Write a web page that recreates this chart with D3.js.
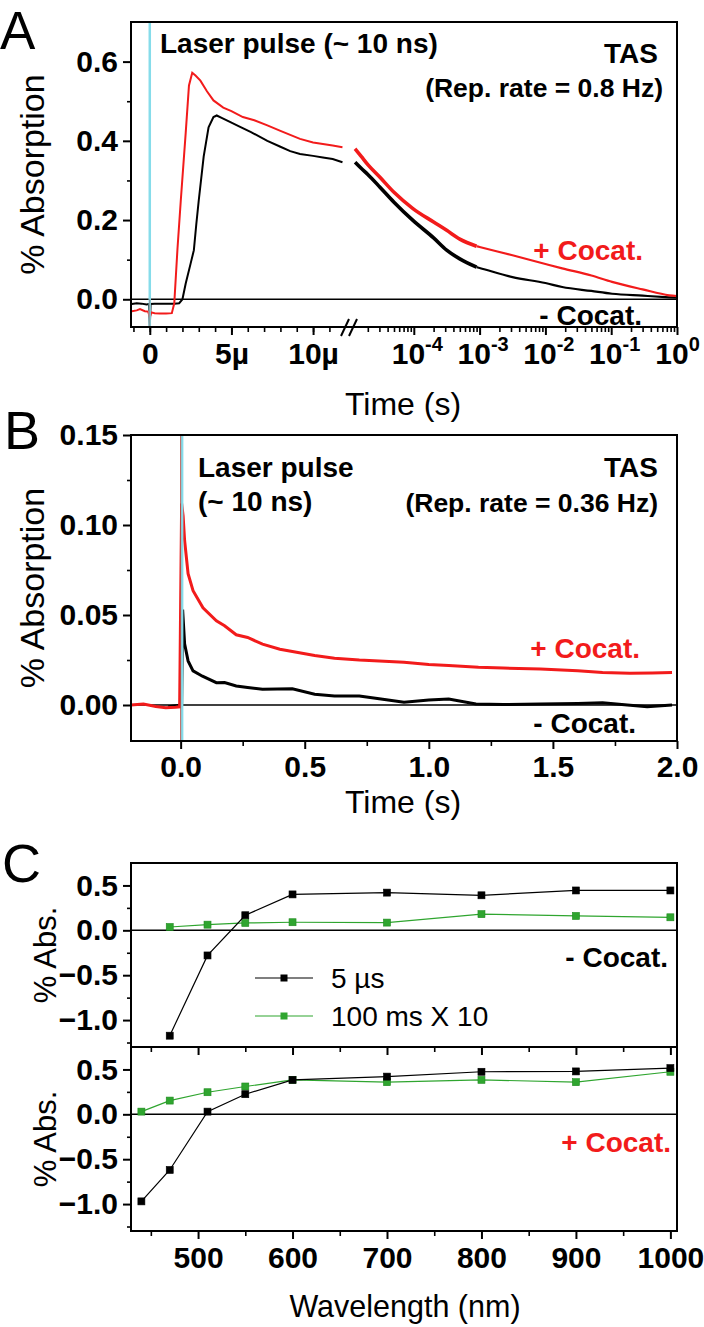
<!DOCTYPE html>
<html><head><meta charset="utf-8">
<script src="https://cdn.jsdelivr.net/npm/d3@7"></script>
<style>
body{margin:0;background:#fff}
svg text{font-family:"Liberation Sans",Arial,Helvetica,sans-serif}
</style>
</head><body>
<svg id="chart" width="704" height="1327"></svg>
<script>
// ---------------- DATA ----------------
// Panel A, linear section (time in microseconds)
const redA_linT   = [-1.1,-0.8,-0.6,-0.3,-0.1,0,0.1,0.3,0.6,1.0,1.35,1.5,1.6,1.7,1.9,2.2,2.4,2.6,2.8,3.1,3.5,3.9,4.5,5.0,5.7,6.4,7.2,8.0,8.6,9.2,10.0,10.6,11.2,11.8];
const redA_linV   = [-0.030,-0.028,-0.025,-0.030,-0.031,-0.045,-0.033,-0.035,-0.036,-0.036,-0.035,-0.010,0.060,0.130,0.250,0.420,0.540,0.572,0.565,0.552,0.525,0.502,0.484,0.475,0.460,0.452,0.439,0.425,0.415,0.405,0.396,0.392,0.388,0.384];
const blackA_linT = [-1.1,-0.8,-0.5,-0.2,-0.05,0,0.05,0.3,1.0,1.5,1.8,2.0,2.2,2.5,2.7,2.85,3.0,3.3,3.6,3.9,4.1,4.4,4.75,5.5,6.2,7.2,8.0,8.6,9.2,10.0,10.6,11.2,11.8];
const blackA_linV = [-0.012,-0.010,-0.011,-0.013,-0.012,-0.070,-0.012,-0.011,-0.011,-0.011,-0.010,0.000,0.040,0.090,0.124,0.190,0.250,0.360,0.434,0.460,0.464,0.458,0.451,0.436,0.422,0.400,0.385,0.374,0.367,0.362,0.358,0.354,0.346];
// Panel A, log section (time in seconds)
const A_logT      = [1.28e-5,1.6e-5,2e-5,3.06e-5,5e-5,9.7e-5,2e-4,3.16e-4,5e-4,9e-4,1e-3,3.16e-3,1e-2,1.8e-2,5e-2,1.03e-1,3e-1,7.6e-1,1];
const redA_logV   = [0.380,0.360,0.340,0.308,0.270,0.229,0.195,0.174,0.152,0.134,0.132,0.111,0.089,0.078,0.060,0.044,0.025,0.010,0.008];
const blackA_logV = [0.346,0.330,0.315,0.283,0.245,0.199,0.155,0.124,0.102,0.081,0.079,0.056,0.041,0.031,0.021,0.014,0.009,0.005,0.004];
const A_noisyCount = 10;
const A_linTicks  = [0,5,10];
const A_linTickLabels = ["0","5\u00b5","10\u00b5"];
const A_logTicks  = [1e-4,1e-3,1e-2,1e-1,1];
const A_logExp    = ["-4","-3","-2","-1","0"];
const A_yTicks    = [0.0,0.2,0.4,0.6];

// Panel B (time in seconds)
const redB_T   = [-0.2,-0.15,-0.1,-0.06,-0.02,-0.004,0.004,0.01,0.016,0.03,0.05,0.09,0.144,0.177,0.224,0.27,0.33,0.4,0.54,0.62,0.72,0.8,0.9,1.0,1.08,1.2,1.3,1.45,1.6,1.7,1.81,1.9,1.98];
const redB_V   = [0.000,0.0005,-0.0008,-0.0015,-0.0012,-0.001,0.112,0.105,0.0914,0.073,0.0635,0.054,0.0468,0.044,0.039,0.0375,0.0338,0.031,0.0275,0.026,0.0250,0.0245,0.0238,0.0225,0.022,0.021,0.0205,0.020,0.019,0.018,0.0176,0.0178,0.018];
const blackB_T = [-0.05,0.004,0.008,0.016,0.03,0.05,0.088,0.144,0.177,0.224,0.27,0.33,0.45,0.54,0.62,0.72,0.8,0.9,1.0,1.08,1.19,1.3,1.45,1.6,1.7,1.8,1.88,1.98];
const blackB_V = [-0.001,0.000,0.053,0.034,0.0245,0.019,0.016,0.0124,0.0125,0.0106,0.0097,0.0087,0.009,0.006,0.005,0.005,0.0035,0.0015,0.0028,0.0033,0.0005,0.0003,0.0005,0.0008,0.0012,0.000,-0.001,0.000];
const B_xTicks = [0,0.5,1.0,1.5,2.0];
const B_yTicks = [0.00,0.05,0.10,0.15];

// Panel C (wavelength in nm)
const wlTop     = [470,510,550,600,700,800,900,1000];
const top5us    = [-1.174,-0.28,0.168,0.40,0.42,0.39,0.444,0.444];
const top100ms  = [0.037,0.063,0.082,0.090,0.086,0.18,0.16,0.145];
const wlBot     = [440,470,510,550,600,700,800,900,1000];
const bot5us    = [-0.97,-0.62,0.03,0.224,0.384,0.42,0.474,0.478,0.515];
const bot100ms  = [0.03,0.153,0.246,0.31,0.384,0.358,0.384,0.358,0.474];
const C_xTicks  = [500,600,700,800,900,1000];
const C_yTicks  = [-1.0,-0.5,0.0,0.5];
const legendLabels = ["5 \u00b5s","100 ms X 10"];

// ---------------- DRAW ----------------
const svg = d3.select("#chart");
const RED = "#f21b1b", CYAN = "#86dcea", GREEN = "#2fa52f";
const L = 131, R = 677;
const TFS = 30;

function styleAxis(g, fs){
  g.select(".domain").remove();
  g.selectAll(".tick line").attr("stroke","#000").attr("stroke-width",2);
  g.selectAll(".tick text").attr("font-size",fs).attr("font-weight","bold").attr("fill","#000");
}
function minorAxis(g){ g.select(".domain").remove(); g.selectAll(".tick line").attr("stroke","#000").attr("stroke-width",1.6); g.selectAll(".tick text").remove(); }

function frame(x0,y0,x1,y1){
  svg.append("rect").attr("x",x0).attr("y",y0).attr("width",x1-x0).attr("height",y1-y0)
    .attr("fill","none").attr("stroke","#000").attr("stroke-width",2);
}
function txt(x,y,s,opt){
  const t = svg.append("text").attr("x",x).attr("y",y).text(s)
    .attr("font-size",opt.fs||28).attr("font-weight",opt.bold?"bold":"normal")
    .attr("fill",opt.fill||"#000").attr("text-anchor",opt.anchor||"start");
  if(opt.rot) t.attr("transform",`rotate(-90,${x},${y})`);
  return t;
}

// ===== Panel A =====
const A_top = 22, A_bot = 327;
const xAlin = d3.scaleLinear().domain([-1.15,12.2]).range([L,349]);
const xAlog = d3.scaleLog().domain([1e-5,1]).range([348,R]);
const yA = d3.scaleLinear().domain([-0.07,0.70]).range([A_bot,A_top]);

const gAx = svg.append("g");
gAx.append("line").attr("x1",L).attr("x2",R).attr("y1",yA(0)).attr("y2",yA(0)).attr("stroke","#000").attr("stroke-width",1.5);

const lineLin = d3.line().x(d=>xAlin(d[0])).y(d=>yA(d[1]));
const lineLog = d3.line().x(d=>xAlog(d[0])).y(d=>yA(d[1])).curve(d3.curveMonotoneX);
function drawA(T,V,color){
  gAx.append("path").datum(T.map((t,i)=>[t,V[i]])).attr("d",lineLin).attr("fill","none").attr("stroke",color).attr("stroke-width",2);
}
drawA(blackA_linT,blackA_linV,"#000");
drawA(redA_linT,redA_linV,RED);
function drawAlog(V,color){
  const pts = A_logT.map((t,i)=>[t,V[i]]);
  gAx.append("path").datum(pts.slice(A_noisyCount-1)).attr("d",lineLog).attr("fill","none").attr("stroke",color).attr("stroke-width",2.2);
  gAx.append("path").datum(pts.slice(0,A_noisyCount)).attr("d",lineLog).attr("fill","none").attr("stroke",color).attr("stroke-width",3.6);
}
drawAlog(blackA_logV,"#000");
drawAlog(redA_logV,RED);
gAx.append("line").attr("x1",xAlin(0)).attr("x2",xAlin(0)).attr("y1",A_top).attr("y2",A_bot).attr("stroke",CYAN).attr("stroke-width",2.5);
gAx.append("line").attr("x1",xAlin(0)).attr("x2",xAlin(0)).attr("y1",yA(0)).attr("y2",A_bot).attr("stroke","#8a8a8a").attr("stroke-width",1);

frame(L,A_top,R,A_bot);
svg.append("g").attr("transform",`translate(${L},0)`)
  .call(d3.axisLeft(yA).tickValues(A_yTicks).tickSize(8).tickPadding(5).tickFormat(d3.format(".1f")))
  .call(g=>styleAxis(g,TFS));
svg.append("g").attr("transform",`translate(${L},0)`)
  .call(d3.axisLeft(yA).tickValues([0.1,0.3,0.5]).tickSize(4)).call(minorAxis);
svg.append("g").attr("transform",`translate(0,${A_bot})`)
  .call(d3.axisBottom(xAlin).tickValues(A_linTicks).tickSize(8).tickPadding(8).tickFormat((d,i)=>A_linTickLabels[i]))
  .call(g=>styleAxis(g,TFS));
svg.append("g").attr("transform",`translate(0,${A_bot})`)
  .call(d3.axisBottom(xAlin).tickValues(d3.range(-1,12)).tickSize(5)).call(minorAxis);
const gLog = svg.append("g").attr("transform",`translate(0,${A_bot})`)
  .call(d3.axisBottom(xAlog).tickValues(A_logTicks).tickSize(8).tickPadding(8).tickFormat(()=>""))
  .call(g=>styleAxis(g,TFS));
gLog.selectAll(".tick text").each(function(d,i){
  const t = d3.select(this);
  t.text(null).attr("dx", i===A_logTicks.length-1 ? 0 : 3);
  t.append("tspan").text("10");
  t.append("tspan").attr("dy",-13).attr("font-size",20).text(A_logExp[i]);
});
const logMinor = [];
for(let e=-5;e<0;e++) for(let m=2;m<10;m++) logMinor.push(m*Math.pow(10,e));
svg.append("g").attr("transform",`translate(0,${A_bot})`)
  .call(d3.axisBottom(xAlog).tickValues(logMinor).tickSize(5)).call(minorAxis);
[[341,349],[349,357]].forEach(([a,b])=>{
  svg.append("line").attr("x1",a).attr("y1",A_bot+9).attr("x2",b).attr("y2",A_bot-8).attr("stroke","#000").attr("stroke-width",2);
});

txt(0,49,"A",{fs:53});
txt(44,(A_top+A_bot)/2,"% Absorption",{fs:34,anchor:"middle",rot:true});
txt(403,415,"Time (s)",{fs:32,anchor:"middle"});
txt(160,53,"Laser pulse (~ 10 ns)",{fs:28,bold:true});
txt(658,63,"TAS",{fs:28,bold:true,anchor:"end"});
txt(663,97,"(Rep. rate = 0.8 Hz)",{fs:26.5,bold:true,anchor:"end"});
txt(643,260,"+ Cocat.",{fs:28,bold:true,anchor:"end",fill:RED});
txt(642,325,"- Cocat.",{fs:28,bold:true,anchor:"end"});

// ===== Panel B =====
const B_top = 435, B_bot = 741;
const xB = d3.scaleLinear().domain([-0.2,2.0]).range([L,R]);
const yB = d3.scaleLinear().domain([-0.02,0.15]).range([B_bot,B_top]);
svg.append("line").attr("x1",L).attr("x2",R).attr("y1",yB(0)).attr("y2",yB(0)).attr("stroke","#000").attr("stroke-width",1.5);
const lineB = d3.line().x(d=>xB(d[0])).y(d=>yB(d[1]));
svg.append("path").datum(blackB_T.map((t,i)=>[t,blackB_V[i]])).attr("d",lineB).attr("fill","none").attr("stroke","#000").attr("stroke-width",3);
svg.append("path").datum(redB_T.map((t,i)=>[t,redB_V[i]])).attr("d",lineB).attr("fill","none").attr("stroke",RED).attr("stroke-width",3);
svg.append("line").attr("x1",xB(0)+1.5).attr("x2",xB(0)+1.5).attr("y1",B_top).attr("y2",B_bot).attr("stroke",CYAN).attr("stroke-width",2.5);
svg.append("line").attr("x1",xB(0)).attr("x2",xB(0)).attr("y1",B_top).attr("y2",B_bot).attr("stroke","#b0504a").attr("stroke-width",0.9);
frame(L,B_top,R,B_bot);
svg.append("g").attr("transform",`translate(${L},0)`)
  .call(d3.axisLeft(yB).tickValues(B_yTicks).tickSize(8).tickPadding(5).tickFormat(d3.format(".2f")))
  .call(g=>styleAxis(g,TFS));
svg.append("g").attr("transform",`translate(${L},0)`)
  .call(d3.axisLeft(yB).tickValues([0.025,0.075,0.125]).tickSize(4)).call(minorAxis);
svg.append("g").attr("transform",`translate(0,${B_bot})`)
  .call(d3.axisBottom(xB).tickValues(B_xTicks).tickSize(8).tickPadding(7).tickFormat(d3.format(".1f")))
  .call(g=>styleAxis(g,TFS));
svg.append("g").attr("transform",`translate(0,${B_bot})`)
  .call(d3.axisBottom(xB).tickValues([0.25,0.75,1.25,1.75]).tickSize(5)).call(minorAxis);

txt(4,449,"B",{fs:54});
txt(44,(B_top+B_bot)/2,"% Absorption",{fs:34,anchor:"middle",rot:true});
txt(403,813,"Time (s)",{fs:32,anchor:"middle"});
txt(198,477,"Laser pulse",{fs:28,bold:true});
txt(198,511,"(~ 10 ns)",{fs:28,bold:true});
txt(658,477,"TAS",{fs:28,bold:true,anchor:"end"});
txt(658,512,"(Rep. rate = 0.36 Hz)",{fs:26.5,bold:true,anchor:"end"});
txt(640,658,"+ Cocat.",{fs:28,bold:true,anchor:"end",fill:RED});
txt(636,733,"- Cocat.",{fs:28,bold:true,anchor:"end"});

// ===== Panel C =====
const C1_top = 863, C1_bot = 1047, C2_top = 1047, C2_bot = 1231;
const xC = d3.scaleLinear().domain([429,1007]).range([L,R]);
const yC1 = d3.scaleLinear().domain([-1.3,0.75]).range([C1_bot,C1_top]);
const yC2 = d3.scaleLinear().domain([-1.3,0.75]).range([C2_bot,C2_top]);
function drawSeries(wl,vals,yS,color,fill){
  const pts = wl.map((w,i)=>[w,vals[i]]);
  svg.append("path").datum(pts).attr("d",d3.line().x(d=>xC(d[0])).y(d=>yS(d[1])))
    .attr("fill","none").attr("stroke",color).attr("stroke-width",1.2);
  svg.append("g").selectAll("rect").data(pts).join("rect")
    .attr("x",d=>xC(d[0])-3.5).attr("y",d=>yS(d[1])-3.5).attr("width",7).attr("height",7)
    .attr("fill",fill).attr("stroke",fill==="#000"?"#000":"#1f8a1f").attr("stroke-width",0.6);
}
[yC1,yC2].forEach(yS=>{
  svg.append("line").attr("x1",L).attr("x2",R).attr("y1",yS(0)).attr("y2",yS(0)).attr("stroke","#000").attr("stroke-width",1.5);
});
drawSeries(wlTop,top100ms,yC1,GREEN,GREEN);
drawSeries(wlTop,top5us,yC1,"#000","#000");
drawSeries(wlBot,bot100ms,yC2,GREEN,GREEN);
drawSeries(wlBot,bot5us,yC2,"#000","#000");
frame(L,C1_top,R,C1_bot);
frame(L,C2_top,R,C2_bot);
[[yC1,C1_bot],[yC2,C2_bot]].forEach(([yS,b],k)=>{
  svg.append("g").attr("transform",`translate(${L},0)`)
    .call(d3.axisLeft(yS).tickValues(C_yTicks).tickSize(8).tickPadding(5).tickFormat(d3.format(".1f")))
    .call(g=>styleAxis(g,TFS));
  svg.append("g").attr("transform",`translate(${L},0)`)
    .call(d3.axisLeft(yS).tickValues([-1.25,-0.75,-0.25,0.25]).tickSize(4)).call(minorAxis);
  const gx = svg.append("g").attr("transform",`translate(0,${b})`)
    .call(d3.axisBottom(xC).tickValues(C_xTicks).tickSize(8).tickPadding(8).tickFormat(d3.format("d")))
    .call(g=>styleAxis(g,TFS));
  if(k===0) gx.selectAll(".tick text").remove();
  svg.append("g").attr("transform",`translate(0,${b})`)
    .call(d3.axisBottom(xC).tickValues([450,550,650,750,850,950]).tickSize(5)).call(minorAxis);
});
[[978,"#000","#000"],[1016,GREEN,GREEN]].forEach(([y,c,f],i)=>{
  svg.append("line").attr("x1",255).attr("x2",313).attr("y1",y).attr("y2",y).attr("stroke",c).attr("stroke-width",1.2);
  svg.append("rect").attr("x",284-3.5).attr("y",y-3.5).attr("width",7).attr("height",7).attr("fill",f);
  txt(331,y+10,legendLabels[i],{fs:28});
});
txt(2,882,"C",{fs:54});
txt(56,(C1_top+C1_bot)/2,"% Abs.",{fs:31,anchor:"middle",rot:true});
txt(56,(C2_top+C2_bot)/2,"% Abs.",{fs:31,anchor:"middle",rot:true});
txt(668,967,"- Cocat.",{fs:28,bold:true,anchor:"end"});
txt(671,1152,"+ Cocat.",{fs:28,bold:true,anchor:"end",fill:RED});
txt(405,1317,"Wavelength (nm)",{fs:30.5,anchor:"middle"});
</script>
</body></html>
